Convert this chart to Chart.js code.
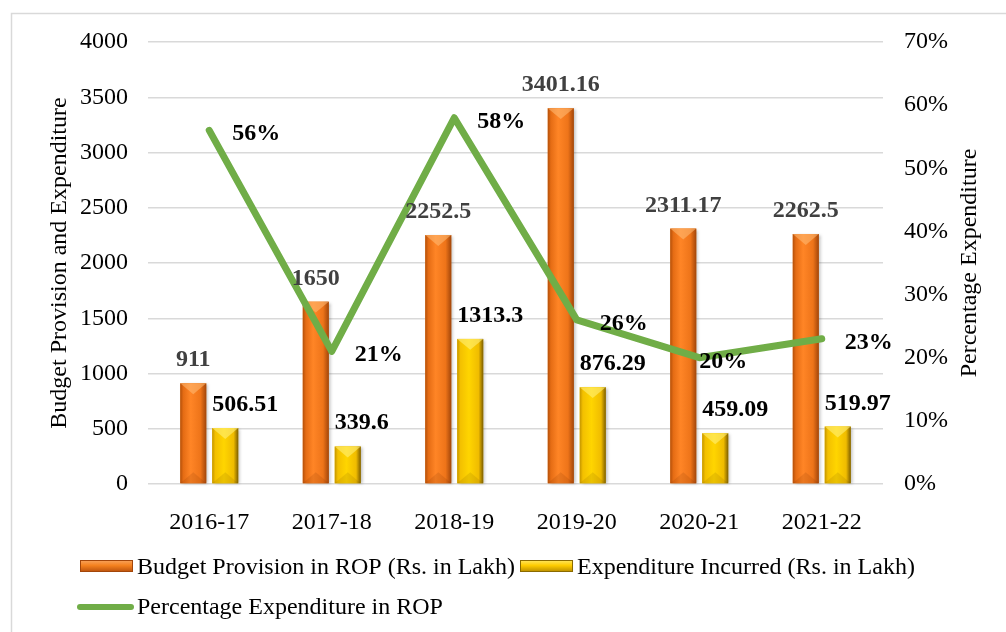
<!DOCTYPE html>
<html>
<head>
<meta charset="utf-8">
<script src="https://cdn.jsdelivr.net/npm/chart.js@4"></script>
<style>
  html, body { margin: 0; padding: 0; background: #fff; }
  #wrap { width: 1006px; height: 632px; }
</style>
</head>
<body>
<div id="wrap"><canvas id="chart" width="1006" height="632"></canvas></div>
<script>
// chart values
const years = ["2016-17", "2017-18", "2018-19", "2019-20", "2020-21", "2021-22"];
const budget = [911, 1650, 2252.5, 3401.16, 2311.17, 2262.5];
const spent = [506.51, 339.6, 1313.3, 876.29, 459.09, 519.97];
const percent = [56, 21, 58, 26, 20, 23];

const leftMax = 4000, leftStep = 500;
const rightMax = 70, rightStep = 10;

const seriesNames = [
  "Budget Provision in ROP (Rs. in Lakh)",
  "Expenditure Incurred (Rs. in Lakh)",
  "Percentage Expenditure in ROP",
];
const axisTitles = ["Budget Provision and Expenditure", "Percentage Expenditure"];

const SERIF = "'Liberation Serif', 'Times New Roman', serif";
Chart.defaults.font.family = SERIF;
Chart.defaults.font.size = 24;
Chart.defaults.color = "#000";

const shades = {
  0: {
    stops: [[0, "#B4500A"], [0.12, "#E56C14"], [0.4, "#FF8526"], [0.78, "#EE7419"], [1, "#A3460A"]],
    top: "rgba(255,190,120,0.55)",
    bottom: "rgba(120,50,0,0.15)",
  },
  1: {
    stops: [[0, "#C49500"], [0.12, "#F3C000"], [0.45, "#FFD500"], [0.82, "#F0BC00"], [1, "#7E5F00"]],
    top: "rgba(255,240,120,0.6)",
    bottom: "rgba(120,90,0,0.15)",
  },
};

// the 2020-21 percentage label sits over its point, the others to the right
const pctLabelShift = { 4: 0 };

function hGradient(ctx, l, r, stops) {
  const g = ctx.createLinearGradient(l, 0, r, 0);
  stops.forEach(([p, c]) => g.addColorStop(p, c));
  return g;
}

// paints each bar with a cylinder-like shade after Chart.js has placed it
const barShading = {
  id: "barShading",
  afterDatasetDraw(chart, args) {
    if (args.meta.type !== "bar") return;
    const shade = shades[args.index];
    const ctx = chart.ctx;
    args.meta.data.forEach((bar) => {
      const w = bar.width, l = bar.x - w / 2, r = bar.x + w / 2;
      const top = bar.y, base = bar.base, h = base - top;
      ctx.save();
      ctx.shadowColor = "rgba(0,0,0,0.25)";
      ctx.shadowOffsetX = 2;
      ctx.shadowOffsetY = 1;
      ctx.shadowBlur = 3;
      ctx.fillStyle = hGradient(ctx, l, r, shade.stops);
      ctx.fillRect(l, top, w, h);
      ctx.restore();
      const b = Math.min(w * 0.42, h / 2);
      ctx.fillStyle = shade.top;
      ctx.beginPath();
      ctx.moveTo(l, top); ctx.lineTo(r, top); ctx.lineTo(bar.x, top + b);
      ctx.closePath(); ctx.fill();
      ctx.fillStyle = shade.bottom;
      ctx.beginPath();
      ctx.moveTo(l, base); ctx.lineTo(r, base); ctx.lineTo(bar.x, base - b);
      ctx.closePath(); ctx.fill();
    });
  },
};

// value labels
const valueLabels = {
  id: "valueLabels",
  afterDatasetsDraw(chart) {
    const ctx = chart.ctx;
    ctx.save();
    ctx.font = "bold 24px " + SERIF;
    ctx.textBaseline = "alphabetic";
    chart.getDatasetMeta(0).data.forEach((bar, i) => {
      ctx.fillStyle = "#404040";
      ctx.textAlign = "center";
      ctx.fillText(String(budget[i]), bar.x, bar.y - 17);
    });
    chart.getDatasetMeta(1).data.forEach((bar, i) => {
      ctx.fillStyle = "#000";
      ctx.textAlign = "left";
      ctx.fillText(String(spent[i]), bar.x - bar.width / 2, bar.y - 17);
    });
    chart.getDatasetMeta(2).data.forEach((pt, i) => {
      ctx.fillStyle = "#000";
      ctx.textAlign = "left";
      const dx = i in pctLabelShift ? pctLabelShift[i] : 23;
      ctx.fillText(percent[i] + "%", pt.x + dx, pt.y + 10);
    });
    ctx.restore();
  },
};

// frame, axis titles and legend
const frame = {
  id: "frame",
  beforeDraw(chart) {
    const ctx = chart.ctx;
    ctx.save();
    ctx.fillStyle = "#fff";
    ctx.fillRect(0, 0, chart.width, chart.height);
    ctx.strokeStyle = "#d9d9d9";
    ctx.lineWidth = 1.5;
    ctx.strokeRect(11.5, 13.5, chart.width + 20, chart.height + 20);
    ctx.restore();
  },
  afterDraw(chart) {
    const ctx = chart.ctx;
    const area = chart.chartArea;
    const midY = (area.top + area.bottom) / 2;
    ctx.save();
    ctx.font = "24px " + SERIF;
    ctx.fillStyle = "#000";
    ctx.textAlign = "center";
    ctx.textBaseline = "alphabetic";
    [[66, axisTitles[0]], [976, axisTitles[1]]].forEach(([x, t]) => {
      ctx.save();
      ctx.translate(x, midY);
      ctx.rotate(-Math.PI / 2);
      ctx.fillText(t, 0, 0);
      ctx.restore();
    });

    // legend
    ctx.textAlign = "left";
    const swatch = (x, y, i) => {
      const g = ctx.createLinearGradient(0, y - 6, 0, y + 6);
      if (i === 0) {
        g.addColorStop(0, "#F8A460"); g.addColorStop(0.45, "#F5821F"); g.addColorStop(1, "#B9500C");
        ctx.strokeStyle = "#A3460A";
      } else {
        g.addColorStop(0, "#FFE766"); g.addColorStop(0.45, "#FFCC00"); g.addColorStop(1, "#B88C00");
        ctx.strokeStyle = "#8A6A00";
      }
      ctx.fillStyle = g;
      ctx.fillRect(x, y - 6, 53, 12);
      ctx.lineWidth = 1;
      ctx.strokeRect(x + 0.5, y - 5.5, 52, 11);
    };
    let x = 80;
    const row1 = 566;
    swatch(x, row1, 0);
    ctx.fillStyle = "#000";
    ctx.fillText(seriesNames[0], x + 57, row1 + 8);
    x = x + 57 + ctx.measureText(seriesNames[0]).width + 5;
    swatch(x, row1, 1);
    ctx.fillStyle = "#000";
    ctx.fillText(seriesNames[1], x + 57, row1 + 8);

    const row2 = 607;
    ctx.strokeStyle = "#70AD47";
    ctx.lineWidth = 6;
    ctx.lineCap = "round";
    ctx.beginPath();
    ctx.moveTo(80, row2); ctx.lineTo(131, row2);
    ctx.stroke();
    ctx.fillStyle = "#000";
    ctx.fillText(seriesNames[2], 137, row2 + 7);
    ctx.restore();
  },
};

const ctx = document.getElementById("chart").getContext("2d");
new Chart(ctx, {
  data: {
    labels: years,
    datasets: [
      {
        type: "bar",
        label: seriesNames[0],
        data: budget,
        backgroundColor: "#F5821F",
        yAxisID: "y",
        order: 1,
        categoryPercentage: 0.522,
        barPercentage: 0.8125,
      },
      {
        type: "bar",
        label: seriesNames[1],
        data: spent,
        backgroundColor: "#FFCC00",
        yAxisID: "y",
        order: 1,
        categoryPercentage: 0.522,
        barPercentage: 0.8125,
      },
      {
        type: "line",
        label: seriesNames[2],
        data: percent,
        borderColor: "#70AD47",
        borderWidth: 7,
        borderCapStyle: "round",
        borderJoinStyle: "round",
        pointRadius: 0,
        tension: 0,
        fill: false,
        yAxisID: "y1",
        order: 0,
      },
    ],
  },
  options: {
    responsive: false,
    animation: false,
    layout: { padding: { top: 42, left: 0, right: 0, bottom: 0 } },
    plugins: {
      legend: { display: false },
      tooltip: { enabled: false },
    },
    scales: {
      x: {
        grid: { display: false },
        border: { display: false },
        ticks: { padding: 16 },
        afterFit: (s) => { s.height = 148; },
      },
      y: {
        position: "left",
        min: 0,
        max: leftMax,
        ticks: { stepSize: leftStep, padding: 20, callback: (v) => String(v) },
        grid: { color: "#d9d9d9", lineWidth: 1.5, drawTicks: false },
        border: { display: false },
        afterFit: (s) => { s.width = 148; },
      },
      y1: {
        position: "right",
        min: 0,
        max: rightMax,
        ticks: { stepSize: rightStep, padding: 21, callback: (v) => v + "%" },
        grid: { display: false, drawTicks: false },
        border: { display: false },
        afterFit: (s) => { s.width = 123; },
      },
    },
  },
  plugins: [barShading, valueLabels, frame],
});
</script>
</body>
</html>
